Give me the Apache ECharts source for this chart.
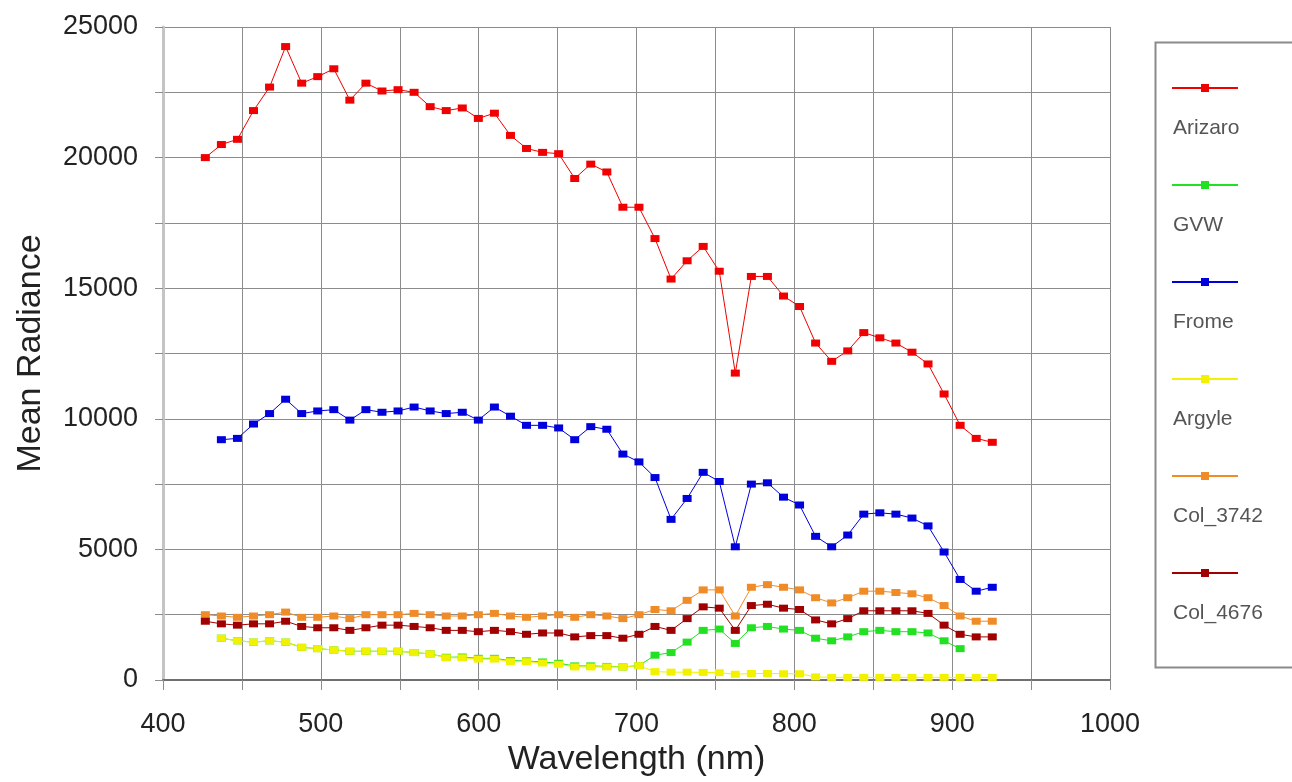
<!DOCTYPE html>
<html>
<head>
<meta charset="utf-8">
<script src="https://cdn.jsdelivr.net/npm/echarts@6/dist/echarts.min.js"></script>
<style>
  html, body { margin: 0; padding: 0; background: #fff; }
  #main { width: 1292px; height: 782px; }
</style>
</head>
<body>
<div id="main"></div>
<script>
// band centres (nm)
var wavelengths = [426.82, 436.99, 447.17, 457.34, 467.52, 477.69, 487.87, 498.04, 508.22, 518.39,
    528.57, 538.74, 548.92, 559.09, 569.27, 579.45, 589.62, 599.80, 609.97, 620.15,
    630.32, 640.50, 650.67, 660.85, 671.02, 681.20, 691.37, 701.55, 711.72, 721.90,
    732.07, 742.25, 752.43, 762.60, 772.78, 782.95, 793.13, 803.30, 813.48, 823.65,
    833.83, 844.00, 854.18, 864.35, 874.53, 884.70, 894.88, 905.05, 915.23, 925.41];

var arizaro = [20000, 20500, 20700, 21800, 22700, 24250, 22850, 23100, 23400, 22200,
    22850, 22550, 22600, 22500, 21950, 21800, 21900, 21500, 21700, 20850,
    20350, 20200, 20150, 19200, 19750, 19450, 18100, 18100, 16900, 15350,
    16050, 16600, 15650, 11750, 15450, 15450, 14700, 14300, 12900, 12200,
    12600, 13300, 13100, 12900, 12550, 12100, 10950, 9750, 9250, 9100];

var gvw = [null, 1600, 1500, 1450, 1500, 1450, 1250, 1200, 1150, 1100,
    1100, 1100, 1100, 1050, 1000, 870, 880, 830, 830, 740,
    730, 690, 640, 540, 540, 520, 500, 550, 950, 1050,
    1450, 1900, 1950, 1400, 2000, 2050, 1950, 1900, 1600, 1500,
    1650, 1850, 1900, 1850, 1850, 1800, 1500, 1200, null, null];

var frome = [null, 9200, 9250, 9800, 10200, 10750, 10200, 10300, 10350, 9950,
    10350, 10250, 10300, 10450, 10300, 10200, 10250, 9950, 10450, 10100,
    9750, 9750, 9650, 9200, 9700, 9600, 8650, 8350, 7750, 6150,
    6950, 7950, 7600, 5100, 7500, 7550, 7000, 6700, 5500, 5100,
    5550, 6350, 6400, 6350, 6200, 5900, 4900, 3850, 3400, 3550];

var argyle = [null, 1600, 1500, 1450, 1500, 1450, 1250, 1200, 1150, 1100,
    1100, 1100, 1100, 1050, 1000, 850, 850, 800, 800, 700,
    700, 650, 600, 500, 500, 500, 500, 550, 320, 300,
    300, 290, 280, 220, 250, 250, 240, 240, 120, 100,
    100, 100, 100, 100, 100, 100, 100, 100, 100, 100];

var col3742 = [2500, 2450, 2400, 2450, 2500, 2600, 2400, 2400, 2450, 2350,
    2500, 2500, 2500, 2550, 2500, 2450, 2450, 2500, 2550, 2450,
    2400, 2450, 2500, 2400, 2500, 2450, 2350, 2500, 2700, 2650,
    3050, 3450, 3450, 2450, 3550, 3650, 3550, 3450, 3150, 2950,
    3150, 3400, 3400, 3350, 3300, 3150, 2850, 2450, 2250, 2250];

var col4676 = [2250, 2150, 2100, 2150, 2150, 2250, 2050, 2000, 2000, 1900,
    2000, 2100, 2100, 2050, 2000, 1900, 1900, 1850, 1900, 1850,
    1750, 1800, 1800, 1650, 1700, 1700, 1600, 1750, 2050, 1900,
    2350, 2800, 2750, 1900, 2850, 2900, 2750, 2700, 2300, 2150,
    2350, 2650, 2650, 2650, 2650, 2550, 2100, 1750, 1650, 1650];

var seriesNames = ['Arizaro', 'GVW', 'Frome', 'Argyle', 'Col_3742', 'Col_4676'];
var seriesValues = [arizaro, gvw, frome, argyle, col3742, col4676];
var seriesColors = ['#f00000', '#22e022', '#0000dd', '#f2f200', '#f08c28', '#a00000'];

function pairs(values) {
    var out = [];
    for (var i = 0; i < values.length; i++) {
        if (values[i] != null) out.push([wavelengths[i], values[i]]);
    }
    return out;
}

var chartDom = document.getElementById('main');
var myChart = echarts.init(chartDom);
var option;

var series = seriesNames.map(function (name, i) {
    return {
        name: name,
        type: 'line',
        data: pairs(seriesValues[i]),
        symbol: 'rect',
        symbolSize: [9, 7],
        color: seriesColors[i],
        lineStyle: { width: 1, color: seriesColors[i] },
        itemStyle: { color: seriesColors[i] },
        animation: false
    };
});

option = {
    backgroundColor: '#fff',
    textStyle: { fontFamily: 'Liberation Sans' },
    grid: { left: 163, right: 182, top: 27, bottom: 100 },
    graphic: [{
        type: 'rect',
        left: 1153,
        top: 40,
        z: 0,
        shape: { width: 180, height: 625 },
        style: { fill: 'none', stroke: '#8a8a8a', lineWidth: 2 }
    }],
    legend: {
        orient: 'vertical',
        left: 1171,
        top: 28,
        padding: 0,
        itemGap: -23,
        itemWidth: 66,
        itemHeight: 10,
        selectedMode: false,
        data: seriesNames,
        // label sits under the line icon, as in the original
        formatter: function (name) { return '\n\n' + name; },
        textStyle: {
            fontSize: 21,
            lineHeight: 40,
            color: '#555',
            padding: [0, 0, 0, -70]
        }
    },
    xAxis: {
        type: 'value',
        min: 400,
        max: 1000,
        interval: 50,
        name: 'Wavelength (nm)',
        nameLocation: 'middle',
        nameGap: 63,
        nameTextStyle: { fontSize: 34, color: '#222' },
        axisLine: { lineStyle: { color: '#707070', width: 2 } },
        axisTick: { show: true, length: 10, lineStyle: { color: '#8c8c8c' } },
        axisLabel: {
            fontSize: 27,
            color: '#222',
            margin: 31,
            formatter: function (v) { return v % 100 === 0 ? String(v) : ''; }
        },
        splitLine: { show: true, lineStyle: { color: '#8c8c8c', width: 1 } }
    },
    yAxis: {
        type: 'value',
        min: 0,
        max: 25000,
        interval: 2500,
        name: 'Mean Radiance',
        nameLocation: 'middle',
        nameRotate: 90,
        nameGap: 115,
        nameTextStyle: { fontSize: 34, color: '#222' },
        axisLine: { show: true, lineStyle: { color: '#c4c4c4', width: 3 } },
        axisTick: { show: true, length: 8, lineStyle: { color: '#8c8c8c' } },
        axisLabel: {
            fontSize: 27,
            color: '#222',
            margin: 25,
            formatter: function (v) { return v % 5000 === 0 ? String(v) : ''; }
        },
        splitLine: { show: true, lineStyle: { color: '#8c8c8c', width: 1 } }
    },
    series: series
};

option && myChart.setOption(option);
</script>
</body>
</html>
